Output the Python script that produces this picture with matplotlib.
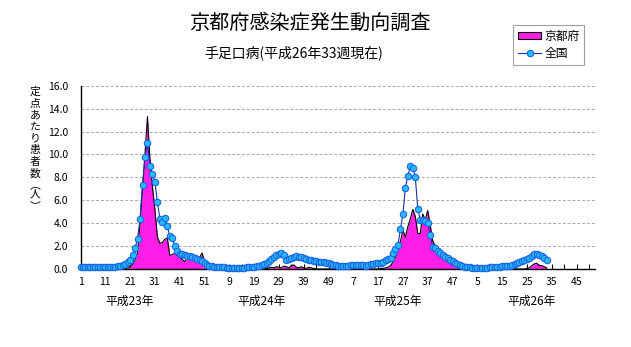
import matplotlib
matplotlib.use("Agg")
import matplotlib.pyplot as plt
from matplotlib.patches import Patch
from matplotlib.lines import Line2D
import numpy as np

plt.rcParams['font.family'] = ['Noto Sans CJK JP', 'DejaVu Sans']

# Weekly cases per sentinel site, 2011 (H23) week 1 .. 2014 (H26) week 33
national_h23 = [0.2, 0.2, 0.18, 0.18, 0.18, 0.17, 0.17, 0.17, 0.17, 0.17, 0.17, 0.18, 0.18, 0.19, 0.2,
                0.22, 0.26, 0.32, 0.45, 0.64, 0.8, 1.2, 1.8, 2.65, 4.35, 7.3, 9.8, 11.0,
                8.95, 8.3, 7.6, 5.85, 4.4, 4.1, 4.45, 3.75, 2.85, 2.7, 2.0, 1.6, 1.35, 1.28,
                1.2, 1.15, 1.1, 1.02, 0.95, 0.85, 0.78, 0.68, 0.5, 0.35]
national_h24 = [0.27, 0.22, 0.2, 0.18, 0.17, 0.15, 0.14, 0.13, 0.12, 0.1, 0.1, 0.08, 0.1, 0.1,
                0.12, 0.14, 0.16, 0.18, 0.2, 0.24, 0.3, 0.38, 0.46, 0.56, 0.72, 0.9, 1.05, 1.2,
                1.3, 1.37, 1.22, 0.8, 0.88, 0.95, 1.05, 1.12, 1.08, 1.02, 0.95, 0.88, 0.8, 0.76,
                0.72, 0.68, 0.65, 0.62, 0.58, 0.55, 0.5, 0.44, 0.38, 0.33]
national_h25 = [0.3, 0.28, 0.27, 0.28, 0.3, 0.33, 0.35, 0.37, 0.38, 0.36, 0.32, 0.3, 0.36, 0.42,
                0.46, 0.5, 0.53, 0.56, 0.64, 0.8, 0.88, 0.95, 1.37, 1.72, 2.1, 3.47, 4.8, 7.1,
                8.16, 8.95, 8.8, 8.0, 5.28, 4.3, 4.3, 4.15, 4.0, 2.97, 1.95, 1.85, 1.6, 1.43,
                1.25, 1.08, 0.92, 0.8, 0.68, 0.55, 0.44, 0.32, 0.24, 0.18]
national_h26 = [0.15, 0.14, 0.13, 0.13, 0.12, 0.12, 0.12, 0.13, 0.13, 0.14, 0.15, 0.16, 0.18,
                0.2, 0.22, 0.24, 0.27, 0.3, 0.35, 0.42, 0.5, 0.58, 0.68, 0.78, 0.88, 0.98, 1.1,
                1.34, 1.29, 1.22, 1.15, 1.0, 0.8]

kyoto_h23 = [0, 0, 0, 0, 0, 0, 0, 0, 0, 0, 0, 0, 0, 0, 0, 0, 0, 0.03, 0.05, 0.1,
             0.2, 0.4, 0.8, 1.4, 4.0, 7.0, 10.0, 13.3, 9.6, 7.2, 5.2, 2.8, 2.25, 2.3, 2.6, 2.7,
             1.2, 1.25, 1.4, 1.2, 1.05, 0.85, 0.65, 0.9, 1.0, 0.9, 0.87, 0.9, 1.0, 1.4, 0.7, 0.2]
kyoto_h24 = [0.1, 0.05, 0, 0, 0, 0, 0, 0, 0, 0, 0, 0, 0, 0, 0, 0, 0, 0, 0, 0, 0, 0,
             0.05, 0.05, 0.1, 0.15, 0.1, 0.2, 0.15, 0.1, 0.25, 0.2, 0.1, 0.3, 0.35, 0.15,
             0.1, 0.2, 0.1, 0.05, 0.15, 0.1, 0.05, 0, 0, 0, 0, 0, 0, 0, 0, 0]
kyoto_h25 = [0, 0, 0, 0, 0, 0, 0, 0, 0, 0, 0, 0, 0, 0, 0, 0, 0, 0.05, 0.05, 0.1,
             0.15, 0.3, 0.6, 1.0, 1.7, 2.4, 3.4, 2.8, 3.7, 4.4, 5.2, 4.6, 3.1, 3.1, 4.8, 4.3,
             5.1, 3.85, 2.5, 2.0, 1.7, 1.4, 1.1, 0.9, 0.65, 0.5, 0.35, 0.25, 0.15, 0.1, 0.05, 0.05]
kyoto_h26 = [0.05, 0, 0, 0, 0, 0, 0, 0, 0, 0, 0, 0, 0, 0, 0, 0, 0, 0, 0, 0, 0, 0, 0, 0,
             0.05, 0.1, 0.3, 0.45, 0.5, 0.3, 0.3, 0.2, 0.1]

tick_labels = ['1', '11', '21', '31', '41', '51', '9', '19', '29', '39', '49',
               '7', '17', '27', '37', '47', '5', '15', '25', '35', '45']
year_labels = ['平成23年', '平成24年', '平成25年', '平成26年']
year_label_x = [19.6, 73.2, 127.8, 182.0]
ylabel_chars = ['定', '点', 'あ', 'た', 'り', '患', '者', '数', '︵', '人', '︶']

national = np.array(national_h23 + national_h24 + national_h25 + national_h26)
kyoto = np.array(kyoto_h23 + kyoto_h24 + kyoto_h25 + kyoto_h26)
weeks = np.arange(len(national))

W, H = 631, 347
fig = plt.figure(figsize=(W / 100, H / 100), dpi=100)
ax = fig.add_axes([80.5 / W, 78 / H, 514.6 / W, 183.3 / H])

magenta = '#FF1EE6'
ax.fill_between(weeks, 0, kyoto, color=magenta, lw=0, zorder=2)
ax.plot(weeks, kyoto, color='black', lw=0.8, zorder=3)
ax.plot(weeks, national, color='#1A2FA8', lw=0.8, marker='o', markersize=4.6,
        markerfacecolor='#27B9F6', markeredgecolor='#1864E6', markeredgewidth=0.8,
        zorder=5, clip_on=False)

ax.set_xlim(0, 207.5)
ax.set_ylim(0, 16)
ax.set_yticks(np.arange(0, 16.1, 2))
ax.set_yticklabels([f'{v:.1f}' for v in np.arange(0, 16.1, 2)], fontsize=7.5)
ax.set_xticks(np.arange(0, 208, 10))
ax.set_xticklabels(tick_labels, fontsize=7.5)
ax.set_xticks(np.arange(5, 208, 10), minor=True)
ax.tick_params(axis='x', which='both', direction='in', length=3.5, width=0.8, pad=6)
ax.tick_params(axis='y', length=0, pad=9)
ax.grid(axis='y', color='#A8A8A8', linestyle=(0, (3, 2)), lw=0.7)
ax.set_axisbelow(True)
for s in ['top', 'right']:
    ax.spines[s].set_visible(False)
for s in ['left', 'bottom']:
    ax.spines[s].set_linewidth(1.0)
    ax.spines[s].set_zorder(4)

trans = ax.get_xaxis_transform()
for lbl, xpos in zip(year_labels, year_label_x):
    ax.text(xpos, -32.7 / 183.3, lbl, transform=trans, ha='center', va='center', fontsize=8.5)

# vertical axis caption, one glyph per row
ypix = 92
for ch in ylabel_chars:
    small = ch in '︵︶'
    fig.text(35 / W, 1 - ypix / H, ch, ha='center', va='center', fontsize=7.8)
    ypix += 9.5 if small else 11.6

fig.text(310 / W, 1 - 23 / H, '京都府感染症発生動向調査', ha='center', va='center', fontsize=14.5)
fig.text(294 / W, 1 - 53 / H, '手足口病(平成26年33週現在)', ha='center', va='center', fontsize=10)

handles = [Patch(facecolor=magenta, edgecolor='black', lw=0.8),
           Line2D([], [], color='#1A2FA8', lw=0.8, marker='o', markersize=4.6,
                  markerfacecolor='#27B9F6', markeredgecolor='#1864E6', markeredgewidth=0.8)]
leg = fig.legend(handles, ['京都府', '全国'], loc='upper left',
                 bbox_to_anchor=(513 / W, 1 - 25 / H), fontsize=8.5, frameon=True,
                 fancybox=False, edgecolor='#A0A0A0', framealpha=1, borderpad=0.4,
                 handlelength=2.0, handleheight=0.6, handletextpad=0.25, labelspacing=0.4,
                 borderaxespad=0)
leg.get_frame().set_linewidth(0.8)

fig.savefig('out.png', dpi=100)
